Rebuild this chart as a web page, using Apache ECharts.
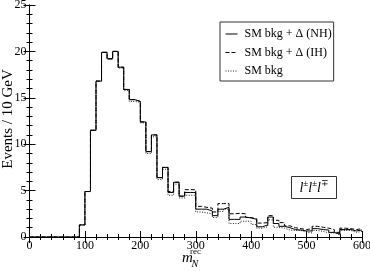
<!DOCTYPE html>
<html><head><meta charset="utf-8">
<script src="https://cdn.jsdelivr.net/npm/echarts@6/dist/echarts.min.js"></script>
<style>html,body{margin:0;padding:0;background:#fff}#c{width:370px;height:273px}</style>
</head><body><div id="c"></div>
<script>
// bin lower edges (GeV), 10 GeV bins from 0 to 590
const binEdges = [0,10,20,30,40,50,60,70,80,90,100,110,120,130,140,150,160,170,180,190,200,210,220,230,240,250,260,270,280,290,300,310,320,330,340,350,360,370,380,390,400,410,420,430,440,450,460,470,480,490,500,510,520,530,540,550,560,570,580,590];
const xMaxEdge = 600;
const smNH = [0,0,0,0,0,0,0,0,0,1.3,4.9,11.5,16.8,19.9,19.2,20.0,18.3,15.9,14.8,14.6,12.4,9.2,11.0,6.4,7.5,4.8,5.9,4.4,4.8,4.8,3.0,3.0,2.8,2.3,3.0,3.2,1.9,1.9,2.15,2.05,1.9,1.1,1.3,2.15,1.45,1.15,1.0,0.8,0.75,0.65,0.65,0.9,0.8,0.75,0.5,0.3,0.8,0.8,0.65,0.75];
const smIH = [0,0,0,0,0,0,0,0,0,1.3,4.9,11.5,16.8,19.9,19.2,20.0,18.3,15.9,14.8,14.6,12.4,9.2,11.0,6.4,7.5,4.9,5.9,4.4,5.1,5.1,3.3,3.2,3.1,2.7,3.6,3.6,2.5,2.55,2.5,2.1,1.95,1.5,1.55,2.3,1.8,1.55,1.2,1.0,0.9,0.8,0.9,1.15,1.05,0.95,0.8,0.5,0.95,0.9,0.8,0.9];
const smBkg = [0,0,0,0,0,0,0,0,0,1.3,4.9,11.5,16.8,19.9,19.2,20.0,18.2,15.8,14.6,14.5,12.3,9.0,10.8,6.2,7.3,4.5,5.7,4.2,4.5,4.5,2.7,2.6,2.5,2.1,2.75,3.0,1.45,1.45,1.7,1.7,1.35,0.95,1.1,1.85,1.05,0.95,0.75,0.7,0.7,0.5,0.45,0.7,0.6,0.45,0.45,0.25,0.7,0.7,0.5,0.6];
const seriesNames = ['SM bkg + Δ (NH)','SM bkg + Δ (IH)','SM bkg'];
const xTicks = [0,100,200,300,400,500,600];
const yTicks = [0,5,10,15,20,25];

function hist(vals){
  const d = binEdges.map((e,i)=>[e, vals[i]]);
  d.push([xMaxEdge, vals[vals.length-1]]);
  return d;
}
const serif = '"Liberation Serif","DejaVu Serif",serif';
const chart = echarts.init(document.getElementById('c'), null, {renderer:'canvas'});
const axisLine = {show:true, lineStyle:{color:'#000', width:1}};
const majorTick = {show:true, inside:true, length:6, lineStyle:{color:'#000'}};
const minorTick = {show:true, splitNumber:5, length:3, lineStyle:{color:'#000'}};
const lbl = {color:'#000', fontFamily:serif, fontSize:12};
chart.setOption({
  animation:false,
  backgroundColor:'#fff',
  grid:{left:29.5, right:8, top:5, bottom:36, containLabel:false, outerBoundsMode:'none'},
  xAxis:[
    {type:'value', min:xTicks[0], max:xTicks[xTicks.length-1], interval:100, position:'bottom',
     axisLine, axisTick:majorTick, minorTick, splitLine:{show:false}, minorSplitLine:{show:false},
     axisLabel:Object.assign({margin:3}, lbl)},
    {type:'value', min:xTicks[0], max:xTicks[xTicks.length-1], interval:100, position:'top',
     axisLine, axisTick:majorTick, minorTick, splitLine:{show:false}, axisLabel:{show:false}}
  ],
  yAxis:[
    {type:'value', min:yTicks[0], max:yTicks[yTicks.length-1], interval:5, position:'left',
     axisLine, axisTick:majorTick, minorTick, splitLine:{show:false},
     axisLabel:Object.assign({margin:3}, lbl)},
    {type:'value', min:yTicks[0], max:yTicks[yTicks.length-1], interval:5, position:'right',
     axisLine, axisTick:majorTick, minorTick, splitLine:{show:false}, axisLabel:{show:false}}
  ],
  legend:{
    orient:'vertical', left:220, top:22,
    data:seriesNames,
    itemWidth:12, itemHeight:8, itemGap:6.5,
    padding:[6,2,4,5],
    borderColor:'#333', borderWidth:1, backgroundColor:'#fff',
    itemStyle:{opacity:0},
    lineStyle:{width:1},
    textStyle:{color:'#000', fontFamily:serif, fontSize:12, padding:[0,0,0,2]}
  },
  series:[
    {name:seriesNames[2], type:'line', step:'end', data:hist(smBkg), symbol:'none', z:2,
     lineStyle:{color:'#222', width:1, type:[1,1.5]}, itemStyle:{color:'#222'}},
    {name:seriesNames[1], type:'line', step:'end', data:hist(smIH), symbol:'none', z:3,
     lineStyle:{color:'#000', width:1, type:[4,2]}, itemStyle:{color:'#000'}},
    {name:seriesNames[0], type:'line', step:'end', data:hist(smNH), symbol:'none', z:4,
     lineStyle:{color:'#000', width:1, type:'solid'}, itemStyle:{color:'#000'}}
  ],
  graphic:[
    {type:'text', x:8, y:119, rotation:Math.PI/2, z:11, style:{text:'Events / 10 GeV', font:'15px '+serif, fill:'#000', align:'center', verticalAlign:'middle'}},
    {type:'rect', shape:{x:291.5, y:176.5, width:45, height:22}, style:{fill:'#fff', stroke:'#333', lineWidth:1}, z:10},
    {type:'text', x:314, y:187.5, z:11, style:{
      text:'{l|l}{s|±}{l|l}{s|±}{l|l}{s|∓}', align:'center', verticalAlign:'middle',
      rich:{l:{fontFamily:serif, fontStyle:'italic', fontSize:14, lineHeight:16, verticalAlign:'bottom', fill:'#000'},
            s:{fontFamily:serif, fontSize:9, lineHeight:16, verticalAlign:'top', fill:'#000'}}}},
    {type:'text', x:182, y:258.5, z:11, style:{text:'m', font:'italic 15px '+serif, fill:'#000', verticalAlign:'middle'}},
    {type:'text', x:190, y:252, z:11, style:{text:'rec', font:'9px '+serif, fill:'#000', verticalAlign:'middle'}},
    {type:'text', x:191.5, y:264, z:11, style:{text:'N', font:'italic 10px '+serif, fill:'#000', verticalAlign:'middle'}}
  ]
});
</script></body></html>
